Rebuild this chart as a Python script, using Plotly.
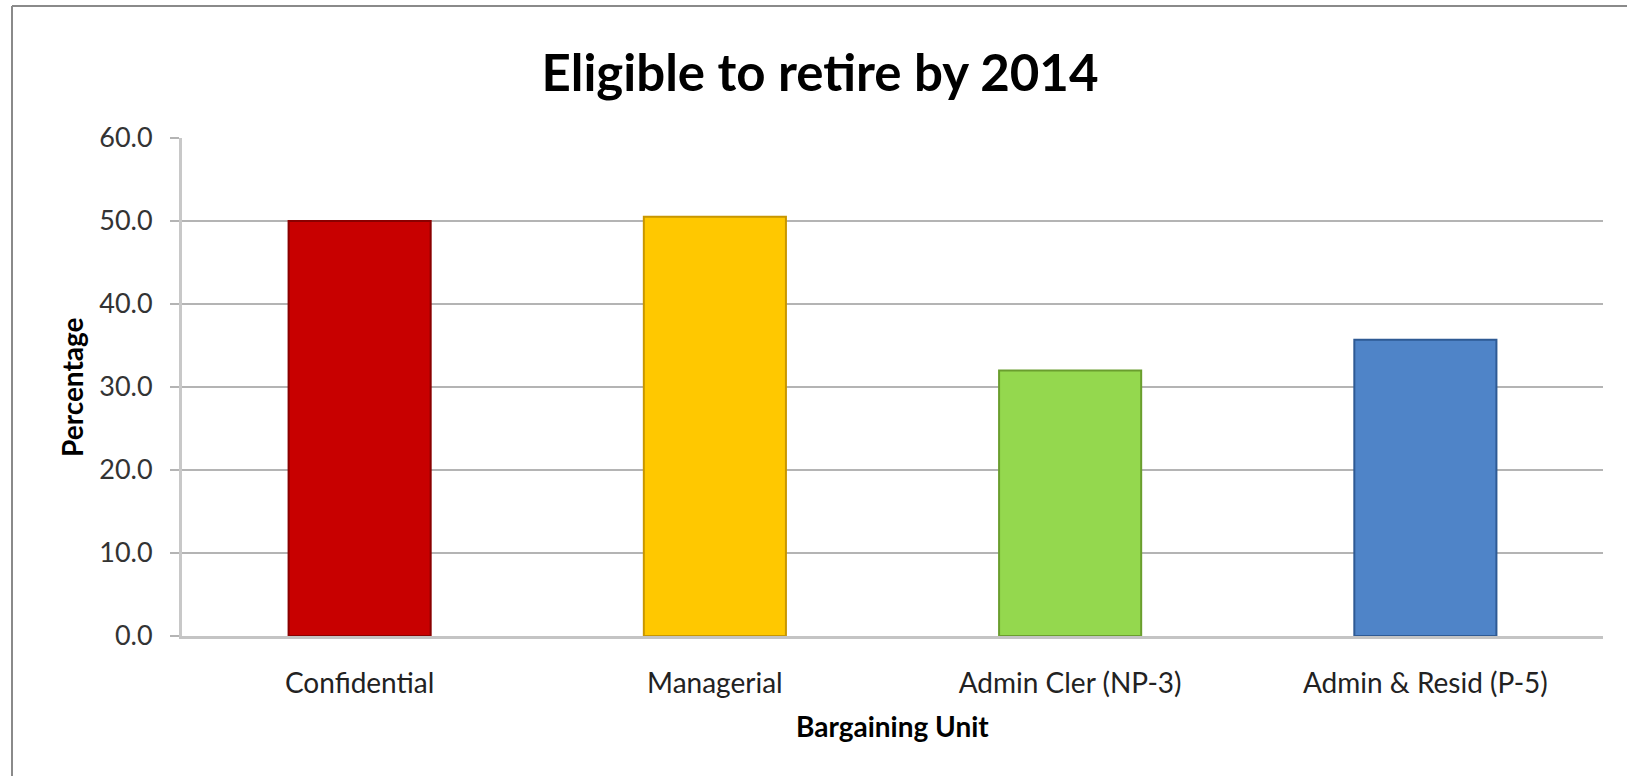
import plotly.graph_objects as go

categories = ["Confidential", "Managerial", "Admin Cler (NP-3)", "Admin & Resid (P-5)"]
values = [50.0, 50.5, 32.0, 35.7]
bar_colors = ["#C80000", "#FFC800", "#94D84E", "#4F84C8"]
edge_colors = ["#8A0000", "#C89600", "#6A9E2E", "#2E5A94"]
y_ticks = [0, 10, 20, 30, 40, 50, 60]

W, H = 1627, 776
L, R, T, B = 182, 24, 138, 140
pw, ph = W - L - R, H - T - B

font_fam = "Lato, 'Open Sans', sans-serif"

fig = go.Figure()
fig.add_trace(go.Bar(
    x=categories, y=values,
    marker=dict(color=bar_colors, line=dict(color=edge_colors, width=2)),
    width=0.4,
))

fig.update_layout(
    width=W, height=H,
    margin=dict(l=L, r=R, t=T, b=B),
    paper_bgcolor="white", plot_bgcolor="white",
    showlegend=False,
    title=dict(text="<b>Eligible to retire by 2014</b>", x=820 / W, xanchor="center",
               y=1 - 73 / H, yanchor="middle", xref="container", yref="container",
               font=dict(family=font_fam, size=51, color="black")),
    xaxis=dict(showgrid=False, showline=True, linecolor="#c4c4c4", linewidth=3,
               ticks="", ticklabelstandoff=20,
               tickfont=dict(family=font_fam, size=28, color="#222222")),
    yaxis=dict(range=[0, 60], tickvals=y_ticks, tickformat=".1f",
               showgrid=True, gridcolor="#b4b4b4", gridwidth=2,
               showline=True, linecolor="#c8c8c8", linewidth=3,
               ticks="outside", ticklen=9, tickcolor="#b4b4b4", tickwidth=2,
               ticklabelstandoff=12, zeroline=False,
               tickfont=dict(family=font_fam, size=27, color="#333333")),
    annotations=[
        dict(text="<b>Percentage</b>", xref="paper", yref="paper",
             x=(72 - L) / pw, y=0.5, textangle=-90, showarrow=False,
             xanchor="center", yanchor="middle",
             font=dict(family=font_fam, size=28, color="black")),
        dict(text="<b>Bargaining Unit</b>", xref="paper", yref="paper",
             x=0.5, y=(H - B - 726) / ph, showarrow=False,
             xanchor="center", yanchor="middle",
             font=dict(family=font_fam, size=28, color="black")),
    ],
    shapes=[
        dict(type="line", xref="paper", yref="paper",
             x0=(12 - L) / pw, x1=(12 - L) / pw, y0=(H - B - 6) / ph, y1=(H - B - H) / ph,
             line=dict(color="#8a8a8a", width=2)),
        dict(type="line", xref="paper", yref="paper",
             x0=(12 - L) / pw, x1=(W - L) / pw, y0=(H - B - 6) / ph, y1=(H - B - 6) / ph,
             line=dict(color="#8a8a8a", width=2)),
    ],
)

fig.write_html("out.html")
